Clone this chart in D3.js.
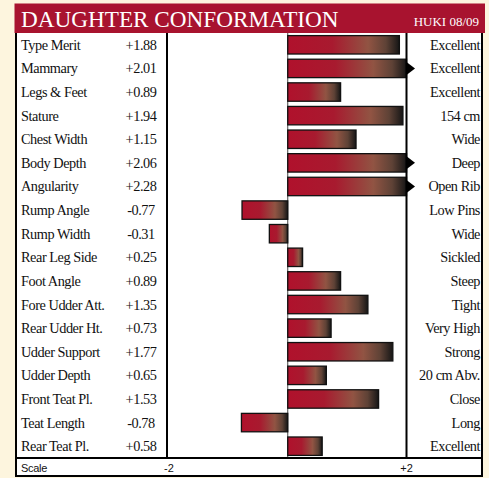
<!DOCTYPE html>
<html>
<head>
<meta charset="utf-8">
<script src="https://cdn.jsdelivr.net/npm/d3@7"></script>
<style>
  body { margin: 0; background: #fdf5de; }
  svg { display: block; }
</style>
</head>
<body>
<div id="chart"></div>
<script>
const traits = ["Type Merit", "Mammary", "Legs & Feet", "Stature", "Chest Width", "Body Depth",
    "Angularity", "Rump Angle", "Rump Width", "Rear Leg Side", "Foot Angle", "Fore Udder Att.",
    "Rear Udder Ht.", "Udder Support", "Udder Depth", "Front Teat Pl.", "Teat Length", "Rear Teat Pl."];
const values = [1.88, 2.01, 0.89, 1.94, 1.15, 2.06, 2.28, -0.77, -0.31, 0.25, 0.89, 1.35,
    0.73, 1.77, 0.65, 1.53, -0.78, 0.58];
const descriptors = ["Excellent", "Excellent", "Excellent", "154 cm", "Wide", "Deep", "Open Rib",
    "Low Pins", "Wide", "Sickled", "Steep", "Tight", "Very High", "Strong", "20 cm Abv.",
    "Close", "Long", "Excellent"];
const scaleTicks = [-2, 2];

const width = 489, height = 478;
const red = "#a8132f";
const serif = "'Liberation Serif', 'Times New Roman', serif";

const svg = d3.select("#chart").append("svg")
    .attr("width", width)
    .attr("height", height);

// gradient for bars
const grad = svg.append("defs").append("linearGradient")
    .attr("id", "barGrad")
    .attr("x1", "0%").attr("x2", "100%").attr("y1", "0%").attr("y2", "0%");
[[0, "#b0112c"], [0.4, "#a81a2f"], [0.72, "#915443"], [0.88, "#5e4236"], [1, "#161616"]]
    .forEach(s => grad.append("stop").attr("offset", s[0]).attr("stop-color", s[1]));

const panelLeft = 16, panelRight = 482, panelTop = 33, panelBottom = 458;
const x = d3.scaleLinear().domain([-2, 2]).range([169, 406.5]);
const y = d3.scaleBand().domain(traits).range([panelTop, panelBottom]).paddingInner(0.22).paddingOuter(0.11);

// header
svg.append("rect").attr("x", 14.5).attr("y", 3.5).attr("width", 470.5).attr("height", 29.5).attr("fill", red);
svg.append("text").attr("x", 21).attr("y", 27)
    .attr("font-family", serif).attr("font-size", 23.2).attr("fill", "#fff")
    .text("DAUGHTER CONFORMATION");
svg.append("text").attr("x", 479).attr("y", 26).attr("text-anchor", "end")
    .attr("font-family", serif).attr("font-size", 13).attr("fill", "#fff")
    .text("HUKI 08/09");

// panel
svg.append("rect").attr("x", panelLeft).attr("y", panelTop).attr("width", panelRight - panelLeft)
    .attr("height", panelBottom - panelTop).attr("fill", "#fff");

// zero line
svg.append("line").attr("x1", x(0)).attr("x2", x(0)).attr("y1", panelTop).attr("y2", panelBottom)
    .attr("stroke", "#444").attr("stroke-width", 1);

// bars
const rows = svg.append("g").selectAll("g").data(traits).join("g");
rows.append("rect")
    .attr("x", (d, i) => x(Math.min(0, values[i])))
    .attr("y", d => y(d))
    .attr("width", (d, i) => Math.abs(x(Math.min(values[i], 2)) - x(0)))
    .attr("height", y.bandwidth())
    .attr("fill", "url(#barGrad)")
    .attr("stroke", "#111")
    .attr("stroke-width", 1.3);
rows.filter((d, i) => values[i] > 2).append("path")
    .attr("d", d => {
        const cy = y(d) + y.bandwidth() / 2, x0 = x(2);
        return `M${x0},${cy - 6.5}L${x0 + 8.5},${cy}L${x0},${cy + 6.5}Z`;
    })
    .attr("fill", "#000");

// labels
const ty = d => y(d) + y.bandwidth() / 2 + 5;
const label = sel => sel.attr("font-family", serif).attr("font-size", 14.3)
    .attr("letter-spacing", -0.45).attr("fill", "#111");
rows.append("text").attr("x", 21).attr("y", ty)
    .call(label)
    .text(d => d);
rows.append("text").attr("x", 141).attr("y", ty).attr("text-anchor", "middle")
    .call(label)
    .text((d, i) => (values[i] > 0 ? "+" : "") + values[i].toFixed(2));
rows.append("text").attr("x", 480).attr("y", ty).attr("text-anchor", "end")
    .call(label)
    .text((d, i) => descriptors[i]);

// panel lines
[panelLeft, 167, x(2), panelRight].forEach(px => {
    svg.append("line").attr("x1", px).attr("x2", px).attr("y1", panelTop).attr("y2", panelBottom)
        .attr("stroke", "#000").attr("stroke-width", 2);
});

// scale row
svg.append("rect").attr("x", panelLeft).attr("y", panelBottom).attr("width", panelRight - panelLeft)
    .attr("height", 18).attr("fill", "#fff").attr("stroke", "#000").attr("stroke-width", 2);
svg.append("text").attr("x", 21).attr("y", 472)
    .attr("font-family", "'Liberation Sans', Arial, sans-serif").attr("font-size", 11)
    .attr("letter-spacing", -0.3).attr("fill", "#111")
    .text("Scale");
svg.selectAll(".tick").data(scaleTicks).join("text")
    .attr("x", d => x(d)).attr("y", 472).attr("text-anchor", "middle")
    .attr("font-family", "'Liberation Sans', Arial, sans-serif").attr("font-size", 11).attr("fill", "#111")
    .text(d => (d > 0 ? "+" : "") + d);
</script>
</body>
</html>
